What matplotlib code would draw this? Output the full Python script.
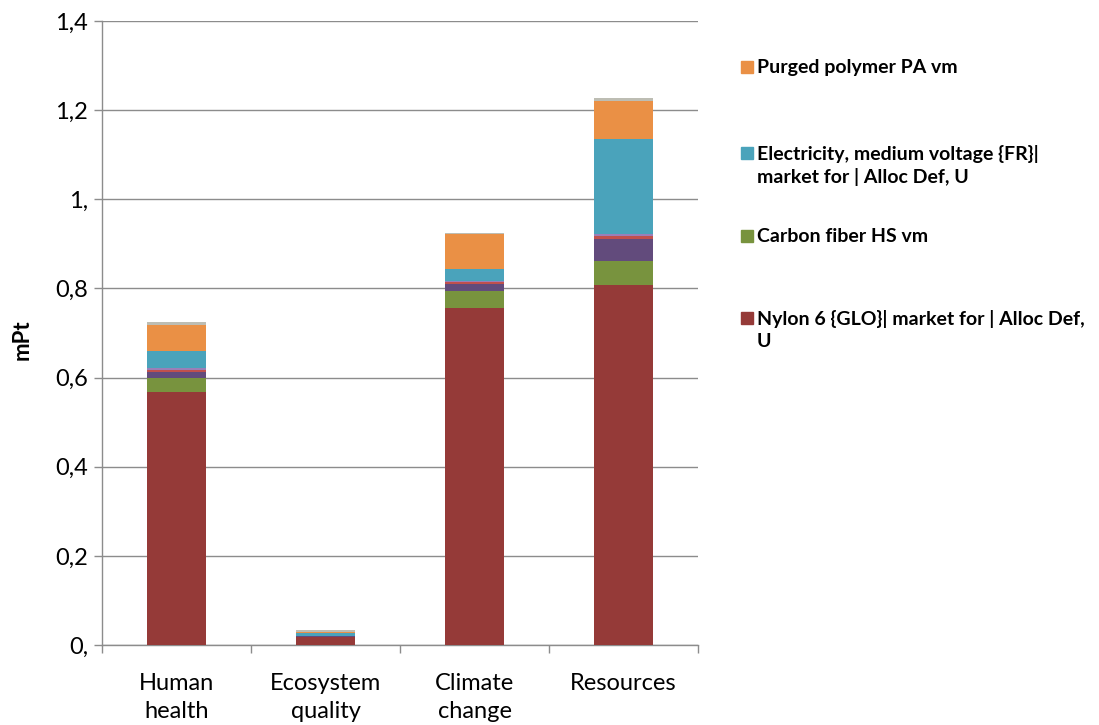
import numpy as np
import matplotlib
matplotlib.use('Agg')
import matplotlib.pyplot as plt
from matplotlib.patches import Rectangle

matplotlib.rcParams['font.family'] = ['Lato', 'DejaVu Sans']

categories = ['Human\nhealth', 'Ecosystem\nquality', 'Climate\nchange', 'Resources']

# stacked contributions (mPt), bottom to top
nylon = [0.568, 0.017, 0.755, 0.808]
carbon_fiber = [0.031, 0.002, 0.039, 0.053]
process_a = [0.014, 0.001, 0.016, 0.051]
process_b = [0.004, 0.0005, 0.004, 0.005]
process_c = [0.004, 0.0005, 0.003, 0.004]
electricity = [0.039, 0.006, 0.027, 0.214]
purged_polymer = [0.059, 0.002, 0.077, 0.086]
others = [0.005, 0.005, 0.003, 0.006]

series = [nylon, carbon_fiber, process_a, process_b, process_c,
          electricity, purged_polymer, others]
colors = ['#953a38', '#78933e', '#624b7c', '#c0504d', '#9a7fb8',
          '#4aa3bb', '#ea9045', '#bdbdb3']

legend_labels = ['Purged polymer PA vm',
                 'Electricity, medium voltage {FR}|\nmarket for | Alloc Def, U',
                 'Carbon fiber HS vm',
                 'Nylon 6 {GLO}| market for | Alloc Def,\nU']
legend_colors = ['#ea9045', '#4aa3bb', '#78933e', '#953a38']
legend_y = [67, 153, 236, 318]

yticks = [0, 0.2, 0.4, 0.6, 0.8, 1.0, 1.2, 1.4]
ytick_labels = ['0,', '0,2', '0,4', '0,6', '0,8', '1,', '1,2', '1,4']

W, H = 1099, 725
fig = plt.figure(figsize=(W / 100, H / 100), dpi=100)
ax = fig.add_axes([102 / W, 1 - 645 / H, 596 / W, 624 / H])

x = np.arange(len(categories))
bottom = np.zeros(len(categories))
for vals, c in zip(series, colors):
    ax.bar(x, vals, width=0.4, bottom=bottom, color=c, zorder=3)
    bottom += np.array(vals)

ax.set_xlim(-0.5, len(categories) - 0.5)
ax.set_ylim(0, 1.4)
ax.set_yticks(yticks)
ax.set_yticklabels(ytick_labels, fontsize=17)
ax.yaxis.grid(True, color='#8c8c8c', linewidth=1.0, zorder=0)

ax.set_xticks(x)
ax.set_xticklabels(categories, fontsize=17, linespacing=1.4)
ax.set_xticks(np.arange(-0.5, len(categories)), minor=True)
ax.tick_params(axis='x', which='major', length=0, pad=20)
ax.tick_params(axis='x', which='minor', length=6, color='#8c8c8c', width=1)
ax.tick_params(axis='y', length=6, color='#8c8c8c', width=1, pad=4)

for s in ['top', 'right']:
    ax.spines[s].set_visible(False)
for s in ['left', 'bottom']:
    ax.spines[s].set_color('#8c8c8c')
    ax.spines[s].set_linewidth(1.0)

fig.text(22 / W, 1 - 340 / H, 'mPt', rotation=90, fontsize=16,
         fontweight='bold', ha='center', va='center')

# legend drawn by hand, one entry per named process
for lab, c, yy in zip(legend_labels, legend_colors, legend_y):
    fig.patches.append(Rectangle((741 / W, 1 - (yy + 6) / H), 12 / W, 12 / H,
                                 transform=fig.transFigure, color=c))
    fig.text(757 / W, 1 - (yy - 8) / H, lab, fontsize=14, fontweight='bold',
             ha='left', va='top', linespacing=1.35)

fig.savefig('out.png', dpi=100)
